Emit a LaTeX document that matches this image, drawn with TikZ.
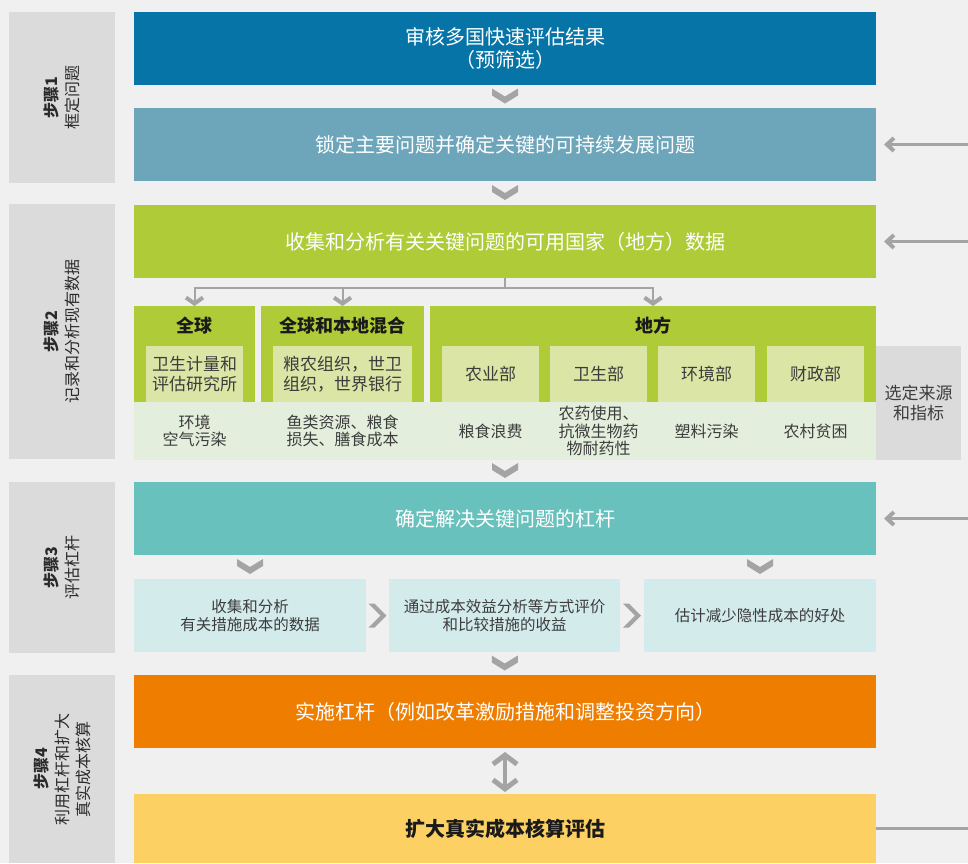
\documentclass[tikz,border=0pt]{standalone}
\usepackage{fontspec}
\setmainfont{Noto Sans CJK SC}
\usetikzlibrary{positioning,calc,arrows.meta}

\definecolor{pagegrey}{HTML}{F0F0F0}
\definecolor{stepgrey}{HTML}{DBDBDB}
\definecolor{steptextgrey}{HTML}{2A2A2A}
\definecolor{deepblue}{HTML}{0674A7}
\definecolor{steelblue}{HTML}{6DA6BB}
\definecolor{leafgreen}{HTML}{AFCB37}
\definecolor{sourcegreen}{HTML}{DBE5A6}
\definecolor{bandgreen}{HTML}{E3EFDC}
\definecolor{tealgreen}{HTML}{68C1BC}
\definecolor{paleteal}{HTML}{D4EBEB}
\definecolor{actorange}{HTML}{EF7D00}
\definecolor{sunyellow}{HTML}{FDD063}
\definecolor{arrowgrey}{HTML}{A4A4A4}
\definecolor{subtext}{HTML}{3C3C3C}
\definecolor{titleblack}{HTML}{1A1A1A}

\tikzset{
  boxbase/.style={inner sep=0pt, outer sep=0pt, align=center},
  stepbox/.style={boxbase, fill=stepgrey, anchor=north west, minimum width=106pt},
  steptext/.style={rotate=90, align=center, text=steptextgrey, font=\fontsize{16}{21}\selectfont},
  mainbox/.style={boxbase, minimum width=742pt, minimum height=73pt, text=white, font=\fontsize{20}{23}\selectfont},
  groupbox/.style={boxbase, fill=leafgreen, anchor=north west, minimum height=96pt},
  grouptitle/.style={text=titleblack, font=\bfseries\fontsize{18}{22}\selectfont},
  sourcebox/.style={boxbase, fill=sourcegreen, minimum width=97pt, minimum height=56pt, text=subtext, font=\fontsize{17}{20}\selectfont},
  issuetext/.style={align=center, text=subtext, font=\fontsize{16}{17.5}\selectfont},
  leverbox/.style={boxbase, fill=paleteal, minimum height=73pt, text=subtext, font=\fontsize{15.5}{18}\selectfont},
  treeline/.style={draw=arrowgrey, line width=2pt, -{Straight Barb[length=6pt,width=17pt,line width=4pt]}},
  feedback/.style={draw=arrowgrey, line width=3pt, -{Straight Barb[length=7pt,width=13pt,line width=4pt]}, shorten >=8pt},
  feedline/.style={draw=arrowgrey, line width=3pt},
  twoway/.style={draw=arrowgrey, line width=4pt, {Straight Barb[length=9pt,width=24pt,line width=5pt]}-{Straight Barb[length=9pt,width=24pt,line width=5pt]}},
  chevdown/.pic={\fill[arrowgrey] (-13,-8) -- (0,0) -- (13,-8) -- (13,-1) -- (0,7) -- (-13,-1) -- cycle;},
  chevright/.pic={\fill[arrowgrey] (-9,-12) -- (-3,-12) -- (9,0) -- (-3,12) -- (-9,12) -- (3,0) -- cycle;}
}

\begin{document}
\begin{tikzpicture}[x=1pt, y=-1pt]
  \fill[pagegrey] (0,0) rectangle (968,863);
  \useasboundingbox (0,0) rectangle (968,863);

  % step column
  \node[stepbox, minimum height=171pt] (step1) at (9,12) {};
  \node[stepbox, minimum height=255pt] (step2) at (9,204) {};
  \node[stepbox, minimum height=171pt] (step3) at (9,482) {};
  \node[stepbox, minimum height=188pt] (step4) at (9,675) {};
  \node[steptext] at (step1) {\textbf{步骤1}\\框定问题};
  \node[steptext] at (step2) {\textbf{步骤2}\\记录和分析现有数据};
  \node[steptext] at (step3) {\textbf{步骤3}\\评估杠杆};
  \node[steptext] at (step4) {\textbf{步骤4}\\利用杠杆和扩大\\真实成本核算};

  % main column
  \node[mainbox, fill=deepblue, anchor=north west] (screen) at (134,12) {审核多国快速评估结果\\（预筛选）};
  \node[mainbox, fill=steelblue, below=23pt of screen] (issues) {锁定主要问题并确定关键的可持续发展问题};
  \node[mainbox, fill=leafgreen, below=24pt of issues] (collect) {收集和分析有关关键问题的可用国家（地方）数据};

  % data sources
  \node[groupbox, minimum width=121pt] (glob) at (134,306) {};
  \node[groupbox, minimum width=163pt, right=6pt of glob] (mix) {};
  \node[groupbox, minimum width=446pt, right=6pt of mix] (local) {};
  \node[grouptitle] at ($(glob.north)+(0,20)$) {全球};
  \node[grouptitle] at ($(mix.north)+(0,20)$) {全球和本地混合};
  \node[grouptitle] at ($(local.north)+(0,20)$) {地方};
  \node[boxbase, fill=bandgreen, minimum width=742pt, minimum height=58pt, anchor=north west] (band) at (134,402) {};
  \node[sourcebox, anchor=north west] (ihme) at (146,346) {卫生计量和\\评估研究所};
  \node[sourcebox, minimum width=139pt, anchor=north west] (unorg) at (273,346) {粮农组织，世卫\\组织，世界银行};
  \node[sourcebox, anchor=north west] (agri) at (442,346) {农业部};
  \node[sourcebox, right=11pt of agri] (health) {卫生部};
  \node[sourcebox, right=11pt of health] (envir) {环境部};
  \node[sourcebox, right=12pt of envir] (finance) {财政部};
  \node[boxbase, fill=stepgrey, minimum width=85pt, minimum height=114pt, anchor=north west,
        text=subtext, font=\fontsize{17}{20}\selectfont] (select) at (876,346) {选定来源\\和指标};
  \node[issuetext] at (ihme |- band) {环境\\空气污染};
  \node[issuetext] at (unorg |- band) {鱼类资源、粮食\\损失、膳食成本};
  \node[issuetext] at (agri |- band) {粮食浪费};
  \node[issuetext] at (health |- band) {农药使用、\\抗微生物药\\物耐药性};
  \node[issuetext] at (envir |- band) {塑料污染};
  \node[issuetext] at (finance |- band) {农村贫困};

  % levers
  \node[mainbox, fill=tealgreen, below=22pt of band] (lever) {确定解决关键问题的杠杆};
  \node[leverbox, minimum width=232pt, anchor=north west] (costdata) at (134,579) {收集和分析\\有关措施成本的数据};
  \node[leverbox, minimum width=231pt, right=23pt of costdata] (benefit) {通过成本效益分析等方式评价\\和比较措施的收益};
  \node[leverbox, minimum width=232pt, right=24pt of benefit] (hidden) {估计减少隐性成本的好处};

  % action
  \node[mainbox, fill=actorange, anchor=north west] (apply) at (134,675) {实施杠杆（例如改革激励措施和调整投资方向）};
  \node[mainbox, fill=sunyellow, minimum height=69pt, text=titleblack,
        font=\bfseries\fontsize{20}{23}\selectfont, below=46pt of apply] (scale) {扩大真实成本核算评估};

  % chevrons
  \pic at ($(screen.south)!.5!(issues.north)$) {chevdown};
  \pic at ($(issues.south)!.5!(collect.north)$) {chevdown};
  \pic at ($(band.south)!.5!(lever.north)$) {chevdown};
  \pic at ($(lever.south -| costdata.north)!.5!(costdata.north)$) {chevdown};
  \pic at ($(lever.south -| hidden.north)!.5!(hidden.north)$) {chevdown};
  \pic at ($(costdata.east)!.5!(benefit.west)$) {chevright};
  \pic at ($(benefit.east)!.5!(hidden.west)$) {chevright};
  \pic at ($(benefit.south)!.5!(apply.north)$) {chevdown};

  % tree
  \coordinate (split) at ($(collect.south)+(0,10)$);
  \draw[treeline, -] (collect.south) -- (split);
  \draw[treeline] (split) -| (glob.north);
  \draw[treeline] (split) -| (mix.north);
  \draw[treeline] (split) -| (local.north);

  \draw[twoway, shorten <=4pt, shorten >=2pt] (apply.south) -- (scale.north);

  % feedback from the right
  \coordinate (rim) at (968,0);
  \draw[feedback] (issues.east -| rim) -- (issues.east);
  \draw[feedback] (collect.east -| rim) -- (collect.east);
  \draw[feedback] (lever.east -| rim) -- (lever.east);
  \draw[feedline] (scale.east) -- (scale.east -| rim);
\end{tikzpicture}
\end{document}
